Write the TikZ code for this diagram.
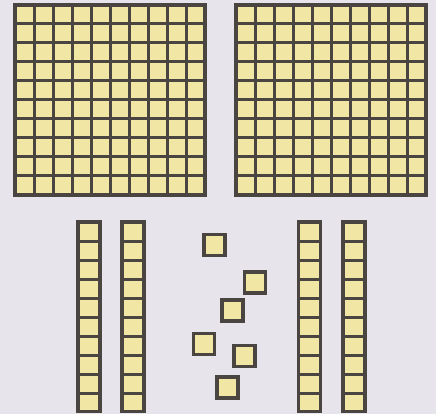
\documentclass[tikz,border=0pt]{standalone}
\definecolor{bgc}{HTML}{E7E5EB}
\definecolor{cubec}{HTML}{F2E6A4}
\definecolor{edgec}{HTML}{4A4541}
\begin{document}
\begin{tikzpicture}[x=1pt,y=-1pt,
  inner/.style={draw=edgec,line width=3pt},
  outer/.style={draw=edgec,line width=3.4pt,line join=miter},
  unitcube/.style={fill=cubec,draw=edgec,line width=3.2pt}]
\fill[bgc] (0,0) rectangle (436,414);
\useasboundingbox (0,0) rectangle (436,414);
% hundreds
\foreach \ox/\oy in {15/5,236/5}{
  \fill[cubec] (\ox,\oy) rectangle ++(190,190);
  \foreach \i in {1,...,9}{
    \draw[inner] ({\ox+\i*19},\oy) -- ++(0,190);
    \draw[inner] (\ox,{\oy+\i*19}) -- ++(190,0);
  }
  \draw[outer] (\ox,\oy) rectangle ++(190,190);
}
% tens
\foreach \ox in {78,122,298.5,343}{
  \fill[cubec] (\ox,222) rectangle ++(22,189.5);
  \foreach \i in {1,...,9}{
    \draw[inner] (\ox,{222+\i*19}) -- ++(22,0);
  }
  \draw[outer] (\ox,222) rectangle ++(22,189.5);
}
% ones
\foreach \cx/\cy in {204/234.5,244.5/272,222/300,193.5/333.5,234/345.5,217/377}{
  \draw[unitcube] (\cx,\cy) rectangle ++(21,21);
}
\end{tikzpicture}
\end{document}
